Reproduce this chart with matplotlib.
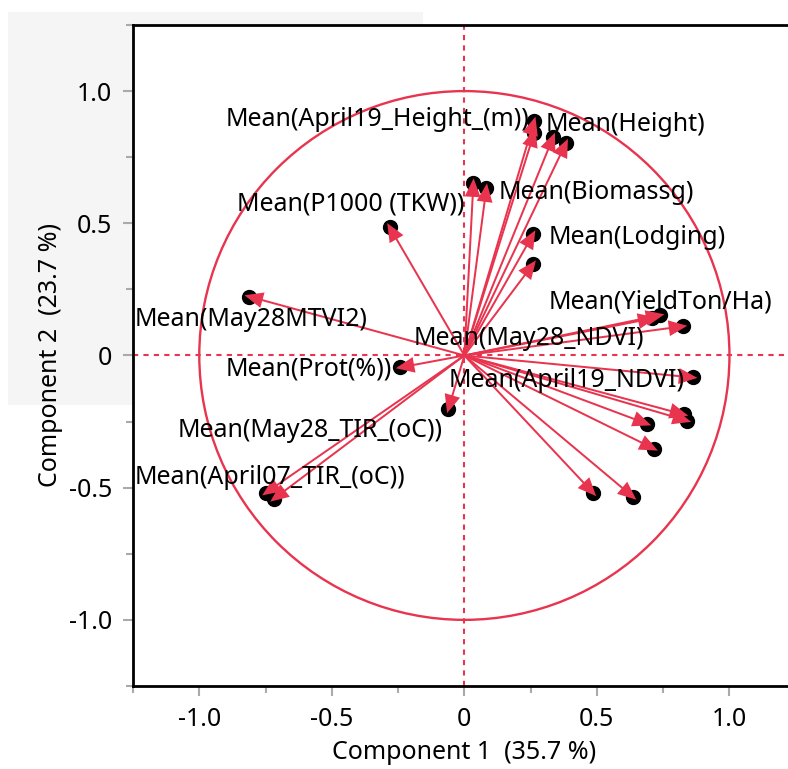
import numpy as np
import matplotlib.pyplot as plt
from matplotlib.patches import Circle, Rectangle
from matplotlib.ticker import MultipleLocator, FuncFormatter

plt.rcParams['font.family'] = ['Noto Sans', 'DejaVu Sans']

red = "#e8344e"

# loadings (component 1, component 2)
load_x = [0.263, 0.263, 0.335, 0.383, 0.034, 0.083, 0.259, 0.259,
          0.707, 0.737, 0.823, 0.861, 0.827, 0.838, 0.688, 0.714,
          0.485, 0.635, -0.282, -0.812, -0.241, -0.060, -0.748, -0.718]
load_y = [0.886, 0.841, 0.826, 0.803, 0.652, 0.633, 0.458, 0.345,
          0.140, 0.152, 0.110, -0.083, -0.223, -0.246, -0.258, -0.352,
          -0.519, -0.534, 0.485, 0.223, -0.045, -0.201, -0.519, -0.542]

labels = ["Mean(April19_Height_(m))", "Mean(Height)", "Mean(P1000 (TKW))",
          "Mean(Biomassg)", "Mean(Lodging)", "Mean(YieldTon/Ha)",
          "Mean(May28MTVI2)", "Mean(May28_NDVI)", "Mean(Prot(%))",
          "Mean(April19_NDVI)", "Mean(May28_TIR_(oC))", "Mean(April07_TIR_(oC))"]
label_x = [-0.902, 0.308, -0.857, 0.128, 0.316, 0.316,
           -1.244, -0.192, -0.902, -0.060, -1.083, -1.244]
label_y = [0.894, 0.875, 0.572, 0.617, 0.447, 0.201,
           0.136, 0.064, -0.053, -0.095, -0.284, -0.462]

fs = 18

fig = plt.figure(figsize=(7.88, 7.69), dpi=100)
# light grey panel behind the upper left
fig.patches.append(Rectangle((0.010, 0.473), 0.527, 0.511, transform=fig.transFigure,
                             facecolor="#f5f5f5", edgecolor="none", zorder=-1))
ax = fig.add_axes([0.1688, 0.108, 0.841, 0.8595])
ax.set_zorder(1)
ax.set_facecolor("white")
ax.set_xlim(-1.25, 1.25)
ax.set_ylim(-1.25, 1.25)

ax.axhline(0, color=red, lw=1.5, ls=(0, (2.5, 2.5)), zorder=1)
ax.axvline(0, color=red, lw=1.5, ls=(0, (2.5, 2.5)), zorder=1)
ax.add_patch(Circle((0, 0), 1.0, fill=False, edgecolor=red, lw=1.7, zorder=2))

ax.plot(load_x, load_y, "o", color="black", ms=10, zorder=3)
for x, y in zip(load_x, load_y):
    # head tip slightly past the point so it covers the dot like in JMP
    k = 1 + 0.018 / np.hypot(x, y)
    ax.arrow(0, 0, x * k, y * k, width=0.0075, head_width=0.06, head_length=0.07,
             length_includes_head=True, color=red, lw=0, zorder=4)

for t, x, y in zip(labels, label_x, label_y):
    ax.text(x, y, t, ha="left", va="center", fontsize=fs, zorder=5)

ax.xaxis.set_major_locator(MultipleLocator(0.5))
ax.yaxis.set_major_locator(MultipleLocator(0.5))
ax.xaxis.set_minor_locator(MultipleLocator(0.25))
ax.yaxis.set_minor_locator(MultipleLocator(0.25))
fmt = FuncFormatter(lambda v, p: "0" if abs(v) < 1e-9 else "%.1f" % v)
ax.xaxis.set_major_formatter(fmt)
ax.yaxis.set_major_formatter(fmt)
ax.tick_params(which="major", length=7, width=1.5, color="#aaaaaa", labelsize=fs, pad=8)
ax.tick_params(which="minor", length=5, width=1.5, color="#aaaaaa")

# the zero ticks are drawn in the reference line colour
for axis in [ax.xaxis, ax.yaxis]:
    for loc, tick in zip(axis.get_majorticklocs(), axis.get_major_ticks()):
        if abs(loc) < 1e-9:
            tick.tick1line.set_color(red)

for s in ["left", "bottom", "top"]:
    ax.spines[s].set_linewidth(2)
    ax.spines[s].set_color("black")
ax.spines["right"].set_visible(False)

ax.set_xlabel("Component 1  (35.7 %)", fontsize=fs, labelpad=6)
ax.set_ylabel("Component 2  (23.7 %)", fontsize=fs, labelpad=4)

fig.savefig("out.png", dpi=100)
